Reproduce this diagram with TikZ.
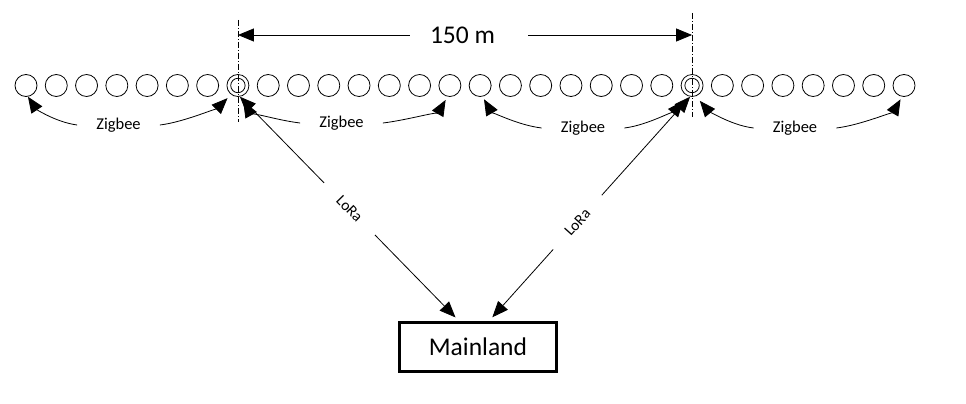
\documentclass[tikz,border=0pt]{standalone}
\usepackage{fontspec}
\setmainfont{Carlito}
\usetikzlibrary{arrows.meta,calc}
\begin{document}
\begin{tikzpicture}[x=1pt,y=-1pt,
  nd/.style={circle,draw,line width=0.8pt,minimum size=22pt,inner sep=0pt},
  tipA/.tip={Triangle[length=16pt,width=13pt]},
  arr/.style={line width=0.8pt,-tipA},
  darr/.style={line width=0.8pt,tipA-tipA},
  zlab/.style={font=\fontsize{16.5}{19}\selectfont,inner xsep=19pt,inner ysep=1pt},
  lora/.style={sloped,fill=white,font=\fontsize{15.5}{18}\selectfont,inner xsep=21pt,inner ysep=1pt},
  dashdot/.style={line width=0.7pt,dash pattern=on 6pt off 2pt on 1pt off 2pt}
]
\useasboundingbox (0,0) rectangle (966,404);
% row of nodes
\foreach \i in {0,...,29}{\node[nd] (c\i) at ({26+30.276*\i},85.5) {};}
\draw[line width=0.8pt] (c7.center) circle (7.2pt);
\draw[line width=0.8pt] (c22.center) circle (7.2pt);
% dash-dot lines
\coordinate (tL) at ($(c7.center)+(0,-65.5)$);
\coordinate (bL) at ($(c7.center)+(0,36.5)$);
\coordinate (tR) at ($(c22.center)+(0,-72.5)$);
\coordinate (bR) at ($(c22.center)+(0,31.5)$);
\draw[dashdot] (tL) -- (bL);
\draw[dashdot] (tR) -- (bR);
% dimension
\coordinate (dL) at ($(c7.center)+(0,-50.5)$);
\coordinate (dR) at ($(c22.center)+(0,-50.5)$);
\node[font=\fontsize{25.5}{30}\selectfont,inner sep=0pt] (dim) at (462.5,35) {150 m};
\draw[arr,shorten <=20pt] (dim.west) -- (dL);
\draw[arr,shorten <=33pt] (dim.east) -- (dR);
% Mainland
\node[draw,line width=3pt,minimum width=157pt,minimum height=49pt,
      font=\fontsize{25.5}{30}\selectfont] (main) at (478,347) {Mainland};
% LoRa links
\draw[darr,shorten >=5pt] (c7.-80) -- node[lora,pos=0.5] {LoRa} ([xshift=-19pt]main.north);
\draw[darr,shorten >=5pt] (c22.-100) -- node[lora,pos=0.56] {LoRa} ([xshift=11pt]main.north);
% Zigbee labels
\node[zlab] (z1) at (118.5,125) {Zigbee};
\node[zlab] (z2) at (341.5,123) {Zigbee};
\node[zlab] (z3) at (583,128) {Zigbee};
\node[zlab] (z4) at (795,128) {Zigbee};
% Zigbee arrows
\draw[arr] (z1.west) .. controls +(-22,-3) and +(8,12) .. (c0.-80);
\draw[arr,shorten >=5pt] (z1.east) .. controls +(25,-3) and +(-12,12) .. (c7.-127);
\draw[arr,shorten >=5.5pt] (z2.west) .. controls +(-25,-3) and +(8,14) .. (c7.-77);
\draw[arr,shorten >=3.8pt] (z2.east) .. controls +(25,-3) and +(-8,14) .. (c14.-102);
\draw[arr,shorten >=3pt] (z3.west) .. controls +(-25,-3) and +(8,14) .. (c15.-78);
\draw[arr,shorten >=6.5pt] (z3.east) .. controls +(25,-3) and +(-10,12) .. (c22.-114);
\draw[arr,shorten >=6pt] (z4.west) .. controls +(-25,-3) and +(10,12) .. (c22.-70);
\draw[arr,shorten >=3pt] (z4.east) .. controls +(25,-3) and +(-8,14) .. (c29.-100);
\end{tikzpicture}
\end{document}
